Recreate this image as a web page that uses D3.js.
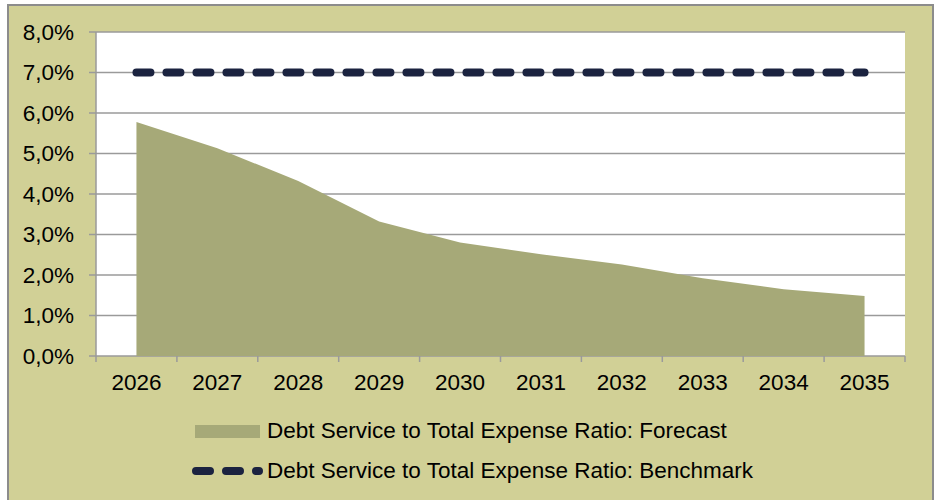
<!DOCTYPE html>
<html>
<head>
<meta charset="utf-8">
<script src="https://cdn.jsdelivr.net/npm/d3@7"></script>
<style>
  body { margin: 0; background: #fff; }
  svg text { font-family: "Liberation Sans", Arial, sans-serif; fill: #000; }
</style>
</head>
<body>
<div id="chart"></div>
<script>
// data
const years = ["2026", "2027", "2028", "2029", "2030", "2031", "2032", "2033", "2034", "2035"];
const forecast = [5.78, 5.13, 4.32, 3.32, 2.80, 2.51, 2.26, 1.92, 1.65, 1.48];
const benchmark = [7, 7, 7, 7, 7, 7, 7, 7, 7, 7];
const yTicks = [0, 1, 2, 3, 4, 5, 6, 7, 8];
const seriesNames = ["Debt Service to Total Expense Ratio: Forecast", "Debt Service to Total Expense Ratio: Benchmark"];

// constants
const width = 937;
const height = 500;
const fontSize = "22.5px";
const bg = "#d1d096";
const areaColor = "#a6a978";
const lineColor = "#1b2340";
const gridColor = "#9a9a9a";
const plot = { left: 96, right: 905, top: 32, bottom: 356 };

const svg = d3.select("#chart")
    .append("svg")
    .attr("width", width)
    .attr("height", height);

// outer frame
svg.append("rect")
    .attr("x", 8)
    .attr("y", 5)
    .attr("width", 925)
    .attr("height", 510)
    .style("fill", bg)
    .style("stroke", "#8c8c8c")
    .style("stroke-width", 2);

svg.append("rect")
    .attr("x", plot.left)
    .attr("y", plot.top)
    .attr("width", plot.right - plot.left)
    .attr("height", plot.bottom - plot.top)
    .style("fill", "#fff");

const x = d3.scaleBand()
    .domain(years)
    .range([plot.left, plot.right]);

const y = d3.scaleLinear()
    .domain([0, 8])
    .range([plot.bottom, plot.top]);

const cx = d => x(d) + x.bandwidth() / 2;

// grid lines
svg.append("g")
    .selectAll("line")
    .data(yTicks)
    .enter()
    .append("line")
    .attr("x1", plot.left - 7)
    .attr("x2", plot.right)
    .attr("y1", d => y(d))
    .attr("y2", d => y(d))
    .style("stroke", gridColor)
    .style("stroke-width", 1.5);

// forecast area
const area = d3.area()
    .x((d, i) => cx(years[i]))
    .y0(y(0))
    .y1(d => y(d));

svg.append("path")
    .datum(forecast)
    .attr("d", area)
    .style("fill", areaColor);

// y axis labels
const yAxis = d3.axisLeft(y)
    .tickValues(yTicks)
    .tickSize(0)
    .tickPadding(15)
    .tickFormat(d => d3.format(".1f")(d).replace(".", ",") + "%");

svg.append("g")
    .attr("transform", `translate(${plot.left - 7},0)`)
    .call(yAxis)
    .call(g => g.select(".domain").remove())
    .selectAll("text")
    .style("font-size", fontSize);

svg.append("line")
    .attr("x1", plot.left)
    .attr("x2", plot.left)
    .attr("y1", plot.top)
    .attr("y2", plot.bottom)
    .style("stroke", gridColor)
    .style("stroke-width", 1.5);

// x axis with ticks on band boundaries
svg.append("g")
    .selectAll("line")
    .data(d3.range(years.length + 1))
    .enter()
    .append("line")
    .attr("x1", i => plot.left + i * x.bandwidth())
    .attr("x2", i => plot.left + i * x.bandwidth())
    .attr("y1", plot.bottom)
    .attr("y2", plot.bottom + 6)
    .style("stroke", gridColor)
    .style("stroke-width", 1.5);

svg.append("g")
    .selectAll("text")
    .data(years)
    .enter()
    .append("text")
    .attr("x", d => cx(d))
    .attr("y", 390)
    .attr("text-anchor", "middle")
    .style("font-size", fontSize)
    .text(d => d);

// benchmark line
const line = d3.line()
    .x((d, i) => cx(years[i]))
    .y(d => y(d));

svg.append("path")
    .datum(benchmark)
    .attr("d", line)
    .style("fill", "none")
    .style("stroke", lineColor)
    .style("stroke-width", 8)
    .style("stroke-linecap", "round")
    .style("stroke-dasharray", "14,16");

// legend
const legend = svg.append("g");

legend.append("rect")
    .attr("x", 195)
    .attr("y", 425)
    .attr("width", 65)
    .attr("height", 13)
    .style("fill", areaColor);

legend.append("line")
    .attr("x1", 196)
    .attr("x2", 259)
    .attr("y1", 471)
    .attr("y2", 471)
    .style("stroke", lineColor)
    .style("stroke-width", 8)
    .style("stroke-linecap", "round")
    .style("stroke-dasharray", "14,16");

legend.selectAll("text")
    .data(seriesNames)
    .enter()
    .append("text")
    .attr("x", 267)
    .attr("y", (d, i) => 438 + i * 40)
    .style("font-size", fontSize)
    .text(d => d);
</script>
</body>
</html>
